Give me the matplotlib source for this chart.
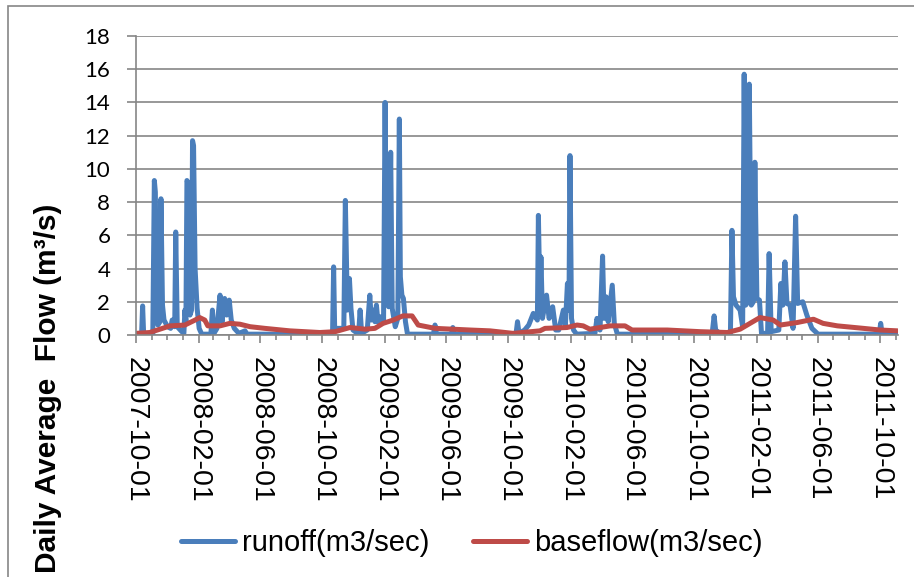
import pandas as pd
import matplotlib.pyplot as plt
import matplotlib.dates as mdates
from matplotlib.patches import Rectangle

# runoff peaks and lows (m3/sec)
runoff_dates = [
    "2007-10-01", "2007-10-12", "2007-10-14", "2007-10-16", "2007-11-03", "2007-11-06",
    "2007-11-08", "2007-11-10", "2007-11-13", "2007-11-17", "2007-11-19", "2007-11-22",
    "2007-11-25", "2007-12-02", "2007-12-08", "2007-12-11", "2007-12-16", "2007-12-18",
    "2007-12-21", "2007-12-30", "2008-01-03", "2008-01-05", "2008-01-07", "2008-01-09",
    "2008-01-12", "2008-01-15", "2008-01-18", "2008-01-20", "2008-01-22", "2008-01-25",
    "2008-01-29", "2008-02-02", "2008-02-07", "2008-02-25", "2008-02-28", "2008-03-02",
    "2008-03-08", "2008-03-14", "2008-03-18", "2008-03-23", "2008-03-27", "2008-04-01",
    "2008-04-05", "2008-04-11", "2008-04-20", "2008-05-02", "2008-05-06", "2008-10-18",
    "2008-10-21", "2008-10-23", "2008-10-25", "2008-11-12", "2008-11-15", "2008-11-19",
    "2008-11-23", "2008-11-26", "2008-11-30", "2008-12-11", "2008-12-14", "2008-12-17",
    "2008-12-28", "2009-01-02", "2009-01-05", "2009-01-09", "2009-01-12", "2009-01-15",
    "2009-01-18", "2009-01-24", "2009-01-29", "2009-02-01", "2009-02-04", "2009-02-08",
    "2009-02-12", "2009-02-15", "2009-02-21", "2009-02-26", "2009-03-01", "2009-03-03",
    "2009-03-06", "2009-03-09", "2009-03-13", "2009-03-17", "2009-05-07", "2009-05-10",
    "2009-05-13", "2009-06-11", "2009-06-14", "2009-06-17", "2009-10-16", "2009-10-19",
    "2009-10-22", "2009-11-02", "2009-11-10", "2009-11-19", "2009-11-27", "2009-11-29",
    "2009-12-02", "2009-12-04", "2009-12-07", "2009-12-15", "2009-12-20", "2009-12-27",
    "2010-01-02", "2010-01-08", "2010-01-17", "2010-01-21", "2010-01-25", "2010-01-28",
    "2010-01-30", "2010-02-02", "2010-02-06", "2010-02-12", "2010-03-20", "2010-03-24",
    "2010-03-30", "2010-04-04", "2010-04-07", "2010-04-11", "2010-04-15", "2010-04-23",
    "2010-04-27", "2010-05-03", "2010-11-05", "2010-11-09", "2010-11-12", "2010-11-20",
    "2010-12-11", "2010-12-14", "2010-12-17", "2010-12-22", "2010-12-30", "2011-01-04",
    "2011-01-07", "2011-01-10", "2011-01-14", "2011-01-17", "2011-01-21", "2011-01-25",
    "2011-01-28", "2011-02-01", "2011-02-06", "2011-02-10", "2011-02-22", "2011-02-25",
    "2011-03-01", "2011-03-16", "2011-03-20", "2011-03-24", "2011-03-28", "2011-04-01",
    "2011-04-07", "2011-04-13", "2011-04-18", "2011-04-22", "2011-05-02", "2011-05-10",
    "2011-05-20", "2011-06-01", "2011-09-29", "2011-10-02", "2011-10-05", "2011-11-04",
]
runoff_flow = [
    0.05, 0.05, 1.75, 0.05, 0.1, 9.3,
    8.6, 1.2, 0.6, 0.8, 8.2, 1.8,
    0.9, 0.5, 0.4, 0.9, 0.5, 6.2,
    0.5, 0.2, 0.1, 1.5, 0.8, 9.3,
    9.1, 1.2, 1.5, 11.7, 11.4, 4.0,
    1.6, 0.4, 0.05, 0.05, 1.5, 0.1,
    0.4, 2.4, 0.8, 2.2, 1.2, 2.1,
    0.9, 0.4, 0.1, 0.25, 0.05, 0.05,
    0.3, 4.1, 0.4, 0.4, 8.1, 1.5,
    3.4, 1.6, 0.3, 0.05, 1.5, 0.1,
    0.3, 2.4, 0.9, 1.5, 0.8, 1.8,
    0.8, 1.1, 0.8, 14.0, 2.0, 1.7,
    11.0, 1.6, 0.5, 1.0, 13.0, 3.5,
    2.4, 2.2, 0.8, 0.05, 0.05, 0.6,
    0.05, 0.05, 0.45, 0.05, 0.05, 0.8,
    0.1, 0.3, 0.6, 1.3, 0.9, 7.2,
    2.0, 4.7, 1.0, 2.4, 1.0, 1.7,
    0.3, 0.3, 1.5, 0.6, 3.1, 1.5,
    10.8, 1.0, 0.3, 0.05, 0.1, 1.0,
    0.3, 4.75, 1.0, 2.3, 0.8, 3.0,
    0.7, 0.05, 0.05, 1.15, 0.3, 0.1,
    0.1, 6.3, 2.3, 1.8, 1.5, 0.5,
    15.7, 1.8, 2.0, 15.1, 1.8, 2.0,
    10.4, 2.2, 2.1, 0.1, 0.1, 4.9,
    0.2, 0.3, 3.1, 1.8, 4.4, 1.9,
    1.8, 0.4, 7.15, 1.9, 2.0, 1.2,
    0.4, 0.05, 0.05, 0.7, 0.05, 0.05,
]

baseflow_dates = [
    "2007-10-01", "2007-10-28", "2007-11-17", "2007-12-07", "2008-01-05", "2008-01-25",
    "2008-02-03", "2008-02-13", "2008-02-19", "2008-03-14", "2008-04-02", "2008-04-22",
    "2008-05-12", "2008-06-10", "2008-07-29", "2008-09-26", "2008-10-26", "2008-11-24",
    "2008-12-24", "2009-01-12", "2009-01-28", "2009-02-17", "2009-03-08", "2009-03-26",
    "2009-04-07", "2009-05-10", "2009-07-18", "2009-08-26", "2009-10-10", "2009-12-02",
    "2009-12-12", "2010-01-24", "2010-02-13", "2010-02-25", "2010-03-10", "2010-04-19",
    "2010-05-18", "2010-06-01", "2010-08-09", "2010-10-13", "2010-12-05", "2010-12-30",
    "2011-01-24", "2011-02-07", "2011-03-05", "2011-03-19", "2011-04-21", "2011-05-23",
    "2011-06-11", "2011-07-09", "2011-08-29", "2011-10-01", "2011-11-04",
]
baseflow_flow = [
    0.1, 0.15, 0.35, 0.55, 0.6, 0.9,
    1.05, 0.9, 0.55, 0.55, 0.7, 0.65,
    0.5, 0.4, 0.25, 0.15, 0.2, 0.45,
    0.35, 0.4, 0.7, 0.9, 1.15, 1.15,
    0.6, 0.4, 0.3, 0.25, 0.1, 0.25,
    0.4, 0.45, 0.6, 0.55, 0.35, 0.55,
    0.55, 0.3, 0.3, 0.2, 0.15, 0.35,
    0.8, 1.05, 0.9, 0.6, 0.75, 0.95,
    0.7, 0.55, 0.4, 0.3, 0.25,
]

blue = "#4A7EBB"
red = "#BE4B48"
gray = "#868686"

fig = plt.figure(figsize=(9.14, 5.77), dpi=100)
ax = fig.add_axes([136 / 914, 1 - 335 / 577, 762 / 914, 299 / 577])

ax.plot(pd.to_datetime(runoff_dates), runoff_flow, color=blue, lw=3.6,
        solid_joinstyle="round", solid_capstyle="round", label="runoff(m3/sec)")
ax.plot(pd.to_datetime(baseflow_dates), baseflow_flow, color=red, lw=3.6,
        solid_joinstyle="round", solid_capstyle="round", label="baseflow(m3/sec)")

ax.set_ylim(0, 18)
ax.set_xlim(pd.Timestamp("2007-10-01"), pd.Timestamp("2011-11-05"))
ax.set_yticks(range(0, 19, 2))
ax.yaxis.grid(True, color=gray, lw=1.2)
ax.set_axisbelow(True)

ax.xaxis.set_major_locator(mdates.MonthLocator(bymonth=[2, 6, 10], bymonthday=1))
ax.xaxis.set_major_formatter(mdates.DateFormatter("%Y-%m-%d"))
ax.xaxis.set_minor_locator(mdates.MonthLocator())

for s in ["top", "right"]:
    ax.spines[s].set_visible(False)
for s in ["left", "bottom"]:
    ax.spines[s].set_color(gray)
    ax.spines[s].set_linewidth(1.2)

ax.tick_params(axis="y", length=6.5, width=1.2, color=gray, pad=12,
               labelsize=16)
ax.tick_params(axis="x", which="major", length=6, width=1.2, color=gray, pad=10,
               labelsize=20.5, labelrotation=270)
ax.tick_params(axis="x", which="minor", length=3.5, width=1.2, color=gray)
for t in ax.get_yticklabels():
    t.set_fontfamily("Lato")
for t in ax.get_xticklabels():
    t.set_fontfamily("Liberation Sans")
    t.set_ha("center")

fig.text(34 / 914, 4 / 577, "Daily Average  Flow (m\u00b3/s)", rotation=90,
         fontsize=21.5, fontweight="bold", family="Liberation Sans",
         ha="left", va="bottom")

fig.legend(loc="center", bbox_to_anchor=(472 / 914, 1 - 543 / 577), ncol=2,
           frameon=False, prop={"family": "Liberation Sans", "size": 21},
           handlelength=1.85, handletextpad=0.25, columnspacing=1.5)

# chart area border (only left and top are visible in the crop)
fig.add_artist(Rectangle((8 / 914, -0.1), 1.0, 1.1 - 6 / 577, transform=fig.transFigure,
                         fill=False, edgecolor=gray, lw=1.2))

fig.savefig("out.png", dpi=100)
